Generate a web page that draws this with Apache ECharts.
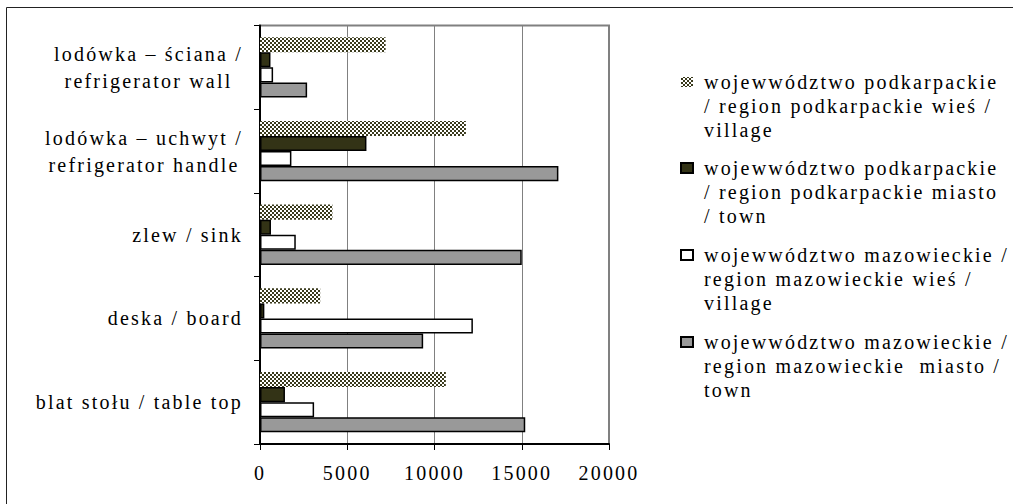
<!DOCTYPE html>
<html>
<head>
<meta charset="utf-8">
<script src="https://cdn.jsdelivr.net/npm/echarts@6/dist/echarts.min.js"></script>
<style>
  html, body { margin: 0; padding: 0; background: #fff; }
  #chart { width: 1013px; height: 504px; }
  #chart text { letter-spacing: 2.2px; font-family: "Liberation Serif", serif !important; }
</style>
</head>
<body>
<div id="chart"></div>
<script>
// Surface categories (top to bottom)
const categories = [
  'lodówka – ściana /\nrefrigerator wall',
  'lodówka – uchwyt /\nrefrigerator handle',
  'zlew / sink',
  'deska / board',
  'blat stołu / table top'
];

// Series names as shown in the legend
const seriesNames = [
  'wojewwództwo podkarpackie\n/ region podkarpackie wieś /\nvillage',
  'wojewwództwo podkarpackie\n/ region podkarpackie miasto\n/ town',
  'wojewwództwo mazowieckie /\nregion mazowieckie wieś /\nvillage',
  'wojewwództwo mazowieckie /\nregion mazowieckie  miasto /\ntown'
];

// Values per surface, one array per region
const podkarpackieWies   = [7200, 11800, 4150, 3450, 10650];
const podkarpackieMiasto = [600, 6100, 630, 250, 1430];
const mazowieckieWies    = [750, 1800, 2050, 12200, 3100];
const mazowieckieMiasto  = [2700, 17100, 15000, 9350, 15200];

// Value axis ticks
const xMin = 0;
const xMax = 20000;
const xStep = 5000;

const FONT = 'Liberation Serif, serif';
const FONT_SIZE = 20;
const LETTER_SPACING = 2.2;

// Checkered fill for the first series
const tile = document.createElement('canvas');
tile.width = 4; tile.height = 4;
const g = tile.getContext('2d');
g.fillStyle = '#ffffff';
g.fillRect(0, 0, 4, 4);
g.fillStyle = '#3a3a1c';
g.fillRect(0, 0, 2, 2);
g.fillRect(2, 2, 2, 2);
const checker = { image: tile.toDataURL(), repeat: 'repeat', imageWidth: 4, imageHeight: 4 };

// Wrapped category labels: lines centred on each other, block right-aligned to the axis
const measure = document.createElement('canvas').getContext('2d');
measure.font = FONT_SIZE + 'px "Liberation Serif"';
const lineWidth = s => measure.measureText(s).width + s.length * LETTER_SPACING;
const labelRich = {};
categories.forEach((cat, ci) => {
  const lines = cat.split('\n');
  const widths = lines.map(lineWidth);
  const widest = Math.max(...widths);
  lines.forEach((ln, li) => {
    labelRich['c' + ci + 'l' + li] = {
      align: 'right',
      fontFamily: FONT,
      fontSize: FONT_SIZE,
      lineHeight: 27,
      color: '#000',
      padding: [0, (widest - widths[li]) / 2, 0, 0]
    };
  });
});
const categoryLabel = (value, index) =>
  value.split('\n').map((ln, li) => '{c' + index + 'l' + li + '|' + ln + '}').join('\n');

// Legend swatch sits next to the first line of each three-line entry
const legendIcon = 'path://M0,0h0M0,7h12v10h-12ZM18,72h0';

const styles = [
  { color: checker, borderWidth: 0 },
  { color: '#333316', borderColor: '#000', borderWidth: 1.5 },
  { color: '#ffffff', borderColor: '#000', borderWidth: 1.5 },
  { color: '#999999', borderColor: '#000', borderWidth: 1.5 }
];
const values = [podkarpackieWies, podkarpackieMiasto, mazowieckieWies, mazowieckieMiasto];

const chart = echarts.init(document.getElementById('chart'), null, { renderer: 'svg' });

chart.setOption({
  backgroundColor: '#ffffff',
  animation: false,
  textStyle: { fontFamily: FONT, color: '#000' },
  graphic: [{
    type: 'rect',
    shape: { x: 6.5, y: 7.5, width: 1100, height: 1000 },
    style: { fill: 'none', stroke: '#222', lineWidth: 1 },
    silent: true,
    z: -10
  }],
  legend: {
    orient: 'vertical',
    left: 680,
    top: 70,
    padding: 0,
    itemGap: 13,
    itemWidth: 18,
    itemHeight: 72,
    icon: legendIcon,
    data: seriesNames,
    textStyle: { fontFamily: FONT, fontSize: FONT_SIZE, lineHeight: 24, color: '#000' }
  },
  grid: {
    left: 260,
    right: 404,
    top: 25.5,
    bottom: 60,
    show: true,
    borderColor: '#808080',
    borderWidth: 2,
    outerBoundsMode: 'none',
    containLabel: false
  },
  xAxis: {
    type: 'value',
    min: xMin,
    max: xMax,
    interval: xStep,
    axisLine: { show: true, lineStyle: { color: '#000', width: 2 } },
    axisTick: { show: true, length: 6, lineStyle: { color: '#000', width: 1 } },
    axisLabel: {
      fontFamily: FONT, fontSize: FONT_SIZE, color: '#000', margin: 19,
      formatter: v => String(v)
    },
    splitLine: { show: true, lineStyle: { color: '#808080', width: 1 } }
  },
  yAxis: {
    type: 'category',
    inverse: true,
    data: categories,
    axisLine: { show: true, lineStyle: { color: '#000', width: 2 } },
    axisTick: { show: true, length: 6, lineStyle: { color: '#000', width: 1 } },
    axisLabel: {
      fontFamily: FONT, fontSize: FONT_SIZE, lineHeight: 27, color: '#000',
      margin: 17, align: 'right',
      formatter: categoryLabel,
      rich: labelRich
    },
    splitLine: { show: false }
  },
  series: values.map((v, i) => ({
    type: 'bar',
    name: seriesNames[i],
    data: v,
    barGap: '0%',
    barCategoryGap: '28%',
    itemStyle: styles[i]
  }))
});
</script>
</body>
</html>
